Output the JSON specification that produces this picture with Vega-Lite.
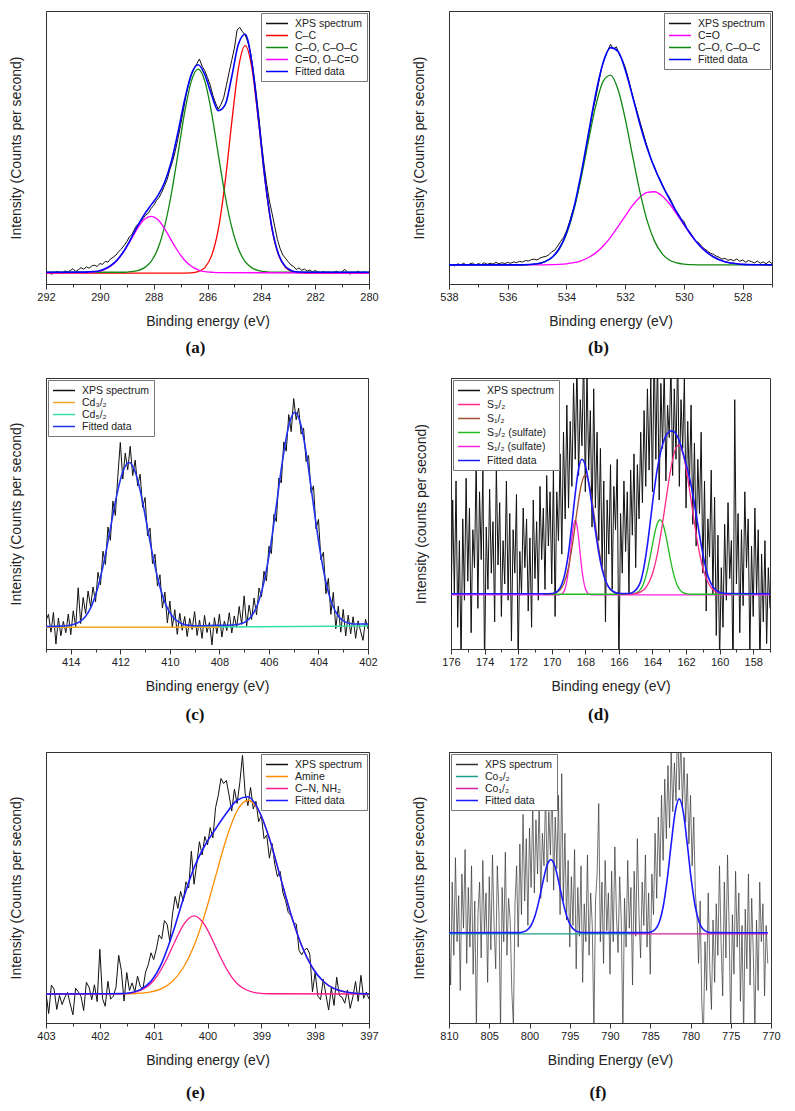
{
"$schema": "https://vega.github.io/schema/vega-lite/v6.json",
"background": "white",
"padding": {"left": 8, "top": 10, "right": 5, "bottom": 5},
"spacing": 20,
"resolve": {"scale": {"color": "independent", "x": "independent", "y": "independent"}},
"config": {
  "view": {"stroke": "#333", "strokeWidth": 1},
  "axis": {"grid": false, "domainColor": "#333", "tickColor": "#333", "tickSize": 5, "labelFont": "Liberation Sans", "labelFontSize": 11, "labelColor": "#222", "titleFont": "Liberation Sans", "titleFontSize": 14, "titleFontWeight": "normal", "titleColor": "#222", "labelOverlap": false, "labelFlush": false, "labelPadding": 2},
  "legend": {"symbolType": "M-1,0H3", "symbolSize": 121, "symbolStrokeWidth": 1.5, "labelFont": "Liberation Sans", "labelFontSize": 10.5, "labelColor": "#222", "strokeColor": "#777", "fillColor": "#fff", "padding": 4, "offset": 2, "rowPadding": 0, "labelOffset": 17},
  "title": {"font": "Liberation Serif", "fontSize": 17, "fontWeight": "bold", "color": "#111", "orient": "bottom", "anchor": "middle", "dx": -12}
},
"vconcat": [
{
 "hconcat": [
  {
   "width": 323, "height": 273,
   "title": {"text": "(a)", "offset": 12},
   "resolve": {"axis": {"x": "independent"}},
   "layer": [
    {"data": {"name": "a_x"}, "mark": {"type": "line", "strokeWidth": 1, "clip": true},
     "encoding": {
      "x": {"field": "x", "type": "quantitative", "scale": {"domain": [280, 292], "reverse": true, "nice": false, "zero": false},
            "axis": {"title": "Binding energy (eV)", "titlePadding": 12, "format": "d", "tickCount": 6}},
      "y": {"field": "y", "type": "quantitative", "scale": {"domain": [0, 100], "nice": false, "zero": false}, "axis": {"title": "Intensity (Counts per second)", "labels": false, "ticks": false, "titlePadding": 23}},
      "color": {"datum": "XPS spectrum", "scale": {"domain": ["XPS spectrum", "C–C", "C–O, C–O–C", "C=O, O–C=O", "Fitted data"], "range": ["#111111", "#ff0000", "#118811", "#ff00ff", "#0000ff"]}, "legend": {"title": null, "orient": "top-right"}}
     }},
    {"data": {"name": "a_cc"}, "mark": {"type": "line", "strokeWidth": 1.3, "interpolate": "monotone", "clip": true}, "encoding": {"x": {"field": "x", "type": "quantitative", "axis": null}, "y": {"field": "y", "type": "quantitative"}, "color": {"datum": "C–C"}}},
    {"data": {"name": "a_co"}, "mark": {"type": "line", "strokeWidth": 1.3, "interpolate": "monotone", "clip": true}, "encoding": {"x": {"field": "x", "type": "quantitative", "axis": null}, "y": {"field": "y", "type": "quantitative"}, "color": {"datum": "C–O, C–O–C"}}},
    {"data": {"name": "a_c2"}, "mark": {"type": "line", "strokeWidth": 1.3, "interpolate": "monotone", "clip": true}, "encoding": {"x": {"field": "x", "type": "quantitative", "axis": null}, "y": {"field": "y", "type": "quantitative"}, "color": {"datum": "C=O, O–C=O"}}},
    {"data": {"name": "a_fit"}, "mark": {"type": "line", "strokeWidth": 1.6, "interpolate": "monotone", "clip": true}, "encoding": {"x": {"field": "x", "type": "quantitative", "axis": {"orient": "bottom", "tickCount": 12, "labels": false, "domain": false, "title": null, "tickSize": 3}}, "y": {"field": "y", "type": "quantitative"}, "color": {"datum": "Fitted data"}}}
   ]
  },
  {
   "width": 323, "height": 273,
   "title": {"text": "(b)", "offset": 12},
   "resolve": {"axis": {"x": "independent"}},
   "layer": [
    {"data": {"name": "b_x"}, "mark": {"type": "line", "strokeWidth": 1, "clip": true},
     "encoding": {
      "x": {"field": "x", "type": "quantitative", "scale": {"domain": [527, 538], "reverse": true, "nice": false, "zero": false},
            "axis": {"title": "Binding energy (eV)", "titlePadding": 12, "format": "d", "tickCount": 6}},
      "y": {"field": "y", "type": "quantitative", "scale": {"domain": [0, 100], "nice": false, "zero": false}, "axis": {"title": "Intensity (Counts per second)", "labels": false, "ticks": false, "titlePadding": 23}},
      "color": {"datum": "XPS spectrum", "scale": {"domain": ["XPS spectrum", "C=O", "C–O, C–O–C", "Fitted data"], "range": ["#111111", "#ff00ff", "#118811", "#0000ff"]}, "legend": {"title": null, "orient": "top-right"}}
     }},
    {"data": {"name": "b_co"}, "mark": {"type": "line", "strokeWidth": 1.3, "interpolate": "monotone", "clip": true}, "encoding": {"x": {"field": "x", "type": "quantitative", "axis": null}, "y": {"field": "y", "type": "quantitative"}, "color": {"datum": "C=O"}}},
    {"data": {"name": "b_coc"}, "mark": {"type": "line", "strokeWidth": 1.3, "interpolate": "monotone", "clip": true}, "encoding": {"x": {"field": "x", "type": "quantitative", "axis": null}, "y": {"field": "y", "type": "quantitative"}, "color": {"datum": "C–O, C–O–C"}}},
    {"data": {"name": "b_fit"}, "mark": {"type": "line", "strokeWidth": 1.6, "interpolate": "monotone", "clip": true}, "encoding": {"x": {"field": "x", "type": "quantitative", "axis": {"orient": "bottom", "tickCount": 11, "labels": false, "domain": false, "title": null, "tickSize": 3}}, "y": {"field": "y", "type": "quantitative"}, "color": {"datum": "Fitted data"}}}
   ]
  }
 ],
 "spacing": 80, "bounds": "flush",
 "resolve": {"scale": {"color": "independent", "x": "independent", "y": "independent"}}
},
{
 "vconcat": [
  {
   "hconcat": [
    {
     "width": 322, "height": 271,
     "title": {"text": "(c)", "offset": 14},
     "resolve": {"axis": {"x": "independent"}},
     "layer": [
      {"data": {"name": "c_x"}, "mark": {"type": "line", "strokeWidth": 1, "clip": true},
       "encoding": {
        "x": {"field": "x", "type": "quantitative", "scale": {"domain": [402, 415], "reverse": true, "nice": false, "zero": false},
              "axis": {"title": "Binding energy (eV)", "titlePadding": 12, "format": "d", "tickCount": 7}},
        "y": {"field": "y", "type": "quantitative", "scale": {"domain": [0, 100], "nice": false, "zero": false}, "axis": {"title": "Intensity (Counts per second)", "labels": false, "ticks": false, "titlePadding": 23}},
        "color": {"datum": "XPS spectrum", "scale": {"domain": ["XPS spectrum", "Cd₃/₂", "Cd₅/₂", "Fitted data"], "range": ["#111111", "#f0a81e", "#33e0a0", "#2233ee"]}, "legend": {"title": null, "orient": "top-left"}}
       }},
      {"data": {"name": "c_cd5"}, "mark": {"type": "line", "strokeWidth": 1.5, "clip": true}, "encoding": {"x": {"field": "x", "type": "quantitative", "axis": null}, "y": {"field": "y", "type": "quantitative"}, "color": {"datum": "Cd₅/₂"}}},
      {"data": {"name": "c_cd3"}, "mark": {"type": "line", "strokeWidth": 1.5, "clip": true}, "encoding": {"x": {"field": "x", "type": "quantitative", "axis": null}, "y": {"field": "y", "type": "quantitative"}, "color": {"datum": "Cd₃/₂"}}},
      {"data": {"name": "c_fit"}, "mark": {"type": "line", "strokeWidth": 1.6, "interpolate": "monotone", "clip": true}, "encoding": {"x": {"field": "x", "type": "quantitative", "axis": {"orient": "bottom", "tickCount": 13, "labels": false, "domain": false, "title": null, "tickSize": 3}}, "y": {"field": "y", "type": "quantitative"}, "color": {"datum": "Fitted data"}}}
     ]
    },
    {
     "width": 319, "height": 271,
     "title": {"text": "(d)", "offset": 14},
     "resolve": {"axis": {"x": "independent"}},
     "layer": [
      {"data": {"name": "d_x"}, "mark": {"type": "line", "strokeWidth": 1, "clip": true},
       "encoding": {
        "x": {"field": "x", "type": "quantitative", "scale": {"domain": [157, 176], "reverse": true, "nice": false, "zero": false},
              "axis": {"title": "Binding enegy (eV)", "titlePadding": 12, "format": "d", "tickCount": 10}},
        "y": {"field": "y", "type": "quantitative", "scale": {"domain": [0, 100], "nice": false, "zero": false}, "axis": {"title": "Intensity (counts per second)", "labels": false, "ticks": false, "titlePadding": 23}},
        "color": {"datum": "XPS spectrum", "scale": {"domain": ["XPS spectrum", "S₃/₂", "S₁/₂", "S₃/₂ (sulfate)", "S₁/₂ (sulfate)", "Fitted data"], "range": ["#111111", "#ff2a8a", "#a0522d", "#22bb22", "#ff22dd", "#1a1aff"]}, "legend": {"title": null, "orient": "top-left", "rowPadding": 2}}
       }},
      {"data": {"name": "d_s12s"}, "mark": {"type": "line", "strokeWidth": 1.3, "interpolate": "monotone", "clip": true}, "encoding": {"x": {"field": "x", "type": "quantitative", "axis": null}, "y": {"field": "y", "type": "quantitative"}, "color": {"datum": "S₁/₂ (sulfate)"}}},
      {"data": {"name": "d_s32s"}, "mark": {"type": "line", "strokeWidth": 1.3, "interpolate": "monotone", "clip": true}, "encoding": {"x": {"field": "x", "type": "quantitative", "axis": null}, "y": {"field": "y", "type": "quantitative"}, "color": {"datum": "S₃/₂ (sulfate)"}}},
      {"data": {"name": "d_s12"}, "mark": {"type": "line", "strokeWidth": 1.3, "interpolate": "monotone", "clip": true}, "encoding": {"x": {"field": "x", "type": "quantitative", "axis": null}, "y": {"field": "y", "type": "quantitative"}, "color": {"datum": "S₁/₂"}}},
      {"data": {"name": "d_s32"}, "mark": {"type": "line", "strokeWidth": 1.3, "interpolate": "monotone", "clip": true}, "encoding": {"x": {"field": "x", "type": "quantitative", "axis": null}, "y": {"field": "y", "type": "quantitative"}, "color": {"datum": "S₃/₂"}}},
      {"data": {"name": "d_fit"}, "mark": {"type": "line", "strokeWidth": 1.6, "interpolate": "monotone", "clip": true}, "encoding": {"x": {"field": "x", "type": "quantitative", "axis": {"orient": "bottom", "tickCount": 19, "labels": false, "domain": false, "title": null, "tickSize": 3}}, "y": {"field": "y", "type": "quantitative"}, "color": {"datum": "Fitted data"}}}
     ]
    }
   ],
   "spacing": 83, "bounds": "flush",
   "resolve": {"scale": {"color": "independent", "x": "independent", "y": "independent"}}
  },
  {
   "hconcat": [
    {
     "width": 323, "height": 271,
     "title": {"text": "(e)", "offset": 18},
     "resolve": {"axis": {"x": "independent"}},
     "layer": [
      {"data": {"name": "e_x"}, "mark": {"type": "line", "strokeWidth": 1, "clip": true},
       "encoding": {
        "x": {"field": "x", "type": "quantitative", "scale": {"domain": [397, 403], "reverse": true, "nice": false, "zero": false},
              "axis": {"title": "Binding energy (eV)", "titlePadding": 12, "format": "d", "tickCount": 6}},
        "y": {"field": "y", "type": "quantitative", "scale": {"domain": [0, 100], "nice": false, "zero": false}, "axis": {"title": "Intensity (Counts per second)", "labels": false, "ticks": false, "titlePadding": 23}},
        "color": {"datum": "XPS spectrum", "scale": {"domain": ["XPS spectrum", "Amine", "C–N, NH₂", "Fitted data"], "range": ["#111111", "#ff8c00", "#ff1a8c", "#1a1aff"]}, "legend": {"title": null, "orient": "top-right"}}
       }},
      {"data": {"name": "e_am"}, "mark": {"type": "line", "strokeWidth": 1.3, "interpolate": "monotone", "clip": true}, "encoding": {"x": {"field": "x", "type": "quantitative", "axis": null}, "y": {"field": "y", "type": "quantitative"}, "color": {"datum": "Amine"}}},
      {"data": {"name": "e_cn"}, "mark": {"type": "line", "strokeWidth": 1.3, "interpolate": "monotone", "clip": true}, "encoding": {"x": {"field": "x", "type": "quantitative", "axis": null}, "y": {"field": "y", "type": "quantitative"}, "color": {"datum": "C–N, NH₂"}}},
      {"data": {"name": "e_fit"}, "mark": {"type": "line", "strokeWidth": 1.6, "interpolate": "monotone", "clip": true}, "encoding": {"x": {"field": "x", "type": "quantitative", "axis": {"orient": "bottom", "tickCount": 12, "labels": false, "domain": false, "title": null, "tickSize": 3}}, "y": {"field": "y", "type": "quantitative"}, "color": {"datum": "Fitted data"}}}
     ]
    },
    {
     "width": 322, "height": 271,
     "title": {"text": "(f)", "offset": 18},
     "layer": [
      {"data": {"name": "f_x"}, "mark": {"type": "line", "strokeWidth": 0.7, "clip": true},
       "encoding": {
        "x": {"field": "x", "type": "quantitative", "scale": {"domain": [770, 810], "reverse": true, "nice": false, "zero": false},
              "axis": {"title": "Binding Energy (eV)", "titlePadding": 12, "format": "d", "tickCount": 8}},
        "y": {"field": "y", "type": "quantitative", "scale": {"domain": [0, 100], "nice": false, "zero": false}, "axis": {"title": "Intensity (Counts per second)", "labels": false, "ticks": false, "titlePadding": 23}},
        "color": {"datum": "XPS spectrum", "scale": {"domain": ["XPS spectrum", "Co₃/₂", "Co₁/₂", "Fitted data"], "range": ["#333333", "#1a9e8e", "#d4209c", "#1a1aff"]}, "legend": {"title": null, "orient": "top-left"}}
       }},
      {"data": {"name": "f_co3"}, "mark": {"type": "line", "strokeWidth": 1.3, "clip": true}, "encoding": {"x": {"field": "x", "type": "quantitative"}, "y": {"field": "y", "type": "quantitative"}, "color": {"datum": "Co₃/₂"}}},
      {"data": {"name": "f_co1"}, "mark": {"type": "line", "strokeWidth": 1.3, "clip": true}, "encoding": {"x": {"field": "x", "type": "quantitative"}, "y": {"field": "y", "type": "quantitative"}, "color": {"datum": "Co₁/₂"}}},
      {"data": {"name": "f_fit"}, "mark": {"type": "line", "strokeWidth": 1.6, "interpolate": "monotone", "clip": true}, "encoding": {"x": {"field": "x", "type": "quantitative"}, "y": {"field": "y", "type": "quantitative"}, "color": {"datum": "Fitted data"}}}
     ]
    }
   ],
   "spacing": 80, "bounds": "flush",
   "resolve": {"scale": {"color": "independent", "x": "independent", "y": "independent"}}
  }
 ],
 "spacing": 27,
 "resolve": {"scale": {"color": "independent", "x": "independent", "y": "independent"}}
}
],
"datasets": {
"a_x": [{"x":292.0,"y":3.5},{"x":291.9,"y":4.2},{"x":291.8,"y":3.6},{"x":291.7,"y":4.0},{"x":291.6,"y":4.6},{"x":291.5,"y":4.3},{"x":291.4,"y":3.9},{"x":291.3,"y":4.8},{"x":291.2,"y":4.4},{"x":291.1,"y":4.9},{"x":291.0,"y":5.6},{"x":290.9,"y":4.6},{"x":290.8,"y":5.2},{"x":290.7,"y":6.0},{"x":290.6,"y":5.4},{"x":290.5,"y":6.3},{"x":290.4,"y":5.8},{"x":290.3,"y":6.6},{"x":290.2,"y":6.9},{"x":290.1,"y":6.4},{"x":290.0,"y":7.5},{"x":289.9,"y":7.2},{"x":289.8,"y":8.3},{"x":289.7,"y":8.0},{"x":289.6,"y":9.2},{"x":289.5,"y":9.8},{"x":289.4,"y":10.6},{"x":289.3,"y":11.9},{"x":289.2,"y":12.8},{"x":289.1,"y":14.1},{"x":289.0,"y":15.5},{"x":288.9,"y":17.3},{"x":288.8,"y":18.2},{"x":288.7,"y":20.4},{"x":288.6,"y":21.8},{"x":288.5,"y":22.6},{"x":288.4,"y":23.9},{"x":288.3,"y":25.2},{"x":288.2,"y":25.9},{"x":288.1,"y":27.6},{"x":288.0,"y":28.8},{"x":287.9,"y":30.5},{"x":287.8,"y":31.7},{"x":287.7,"y":33.6},{"x":287.6,"y":35.9},{"x":287.5,"y":38.2},{"x":287.4,"y":41.9},{"x":287.3,"y":44.8},{"x":287.2,"y":48.6},{"x":287.1,"y":53.2},{"x":287.0,"y":58.1},{"x":286.9,"y":63.4},{"x":286.8,"y":69.0},{"x":286.7,"y":73.2},{"x":286.6,"y":76.5},{"x":286.5,"y":78.9},{"x":286.4,"y":80.6},{"x":286.3,"y":82.4},{"x":286.2,"y":79.8},{"x":286.1,"y":78.1},{"x":286.0,"y":75.6},{"x":285.9,"y":72.8},{"x":285.8,"y":69.1},{"x":285.7,"y":66.3},{"x":285.6,"y":64.0},{"x":285.5,"y":65.8},{"x":285.4,"y":68.2},{"x":285.3,"y":72.7},{"x":285.2,"y":77.4},{"x":285.1,"y":81.9},{"x":285.0,"y":86.4},{"x":284.9,"y":93.1},{"x":284.8,"y":94.0},{"x":284.7,"y":92.4},{"x":284.6,"y":91.2},{"x":284.5,"y":88.6},{"x":284.4,"y":84.7},{"x":284.3,"y":78.3},{"x":284.2,"y":70.6},{"x":284.1,"y":61.9},{"x":284.0,"y":52.3},{"x":283.9,"y":43.8},{"x":283.8,"y":36.5},{"x":283.7,"y":30.4},{"x":283.6,"y":25.8},{"x":283.5,"y":21.0},{"x":283.4,"y":16.2},{"x":283.3,"y":12.9},{"x":283.2,"y":10.6},{"x":283.1,"y":9.4},{"x":283.0,"y":8.1},{"x":282.9,"y":7.0},{"x":282.8,"y":6.4},{"x":282.7,"y":5.3},{"x":282.6,"y":5.9},{"x":282.5,"y":5.0},{"x":282.4,"y":5.5},{"x":282.3,"y":4.7},{"x":282.2,"y":5.1},{"x":282.1,"y":4.4},{"x":282.0,"y":4.9},{"x":281.9,"y":4.5},{"x":281.8,"y":4.1},{"x":281.7,"y":4.6},{"x":281.6,"y":4.2},{"x":281.5,"y":4.4},{"x":281.4,"y":3.9},{"x":281.3,"y":4.3},{"x":281.2,"y":4.7},{"x":281.1,"y":4.0},{"x":281.0,"y":4.5},{"x":280.9,"y":5.4},{"x":280.8,"y":4.2},{"x":280.7,"y":3.6},{"x":280.6,"y":4.3},{"x":280.5,"y":4.0},{"x":280.4,"y":4.8},{"x":280.3,"y":3.7},{"x":280.2,"y":4.5},{"x":280.1,"y":4.1},{"x":280.0,"y":4.3}],
"a_cc": [{"x":280,"y":4.0},{"x":282.1,"y":4.0},{"x":282.6,"y":4.1},{"x":282.85,"y":4.5},{"x":283.1,"y":6.0},{"x":283.35,"y":10.3},{"x":283.6,"y":19.9},{"x":283.85,"y":36.9},{"x":284.1,"y":59.1},{"x":284.35,"y":79.1},{"x":284.6,"y":87.3},{"x":284.85,"y":79.1},{"x":285.1,"y":59.1},{"x":285.35,"y":36.9},{"x":285.6,"y":19.9},{"x":285.85,"y":10.3},{"x":286.1,"y":6.0},{"x":286.35,"y":4.5},{"x":286.6,"y":4.1},{"x":287.1,"y":4.0},{"x":292,"y":4.0}],
"a_co": [{"x":280,"y":4.3},{"x":283.6,"y":4.3},{"x":283.85,"y":4.5},{"x":284.1,"y":4.9},{"x":284.35,"y":5.9},{"x":284.6,"y":8.2},{"x":284.85,"y":12.8},{"x":285.1,"y":20.8},{"x":285.35,"y":32.6},{"x":285.6,"y":47.5},{"x":285.85,"y":62.8},{"x":286.1,"y":74.3},{"x":286.35,"y":78.7},{"x":286.6,"y":74.3},{"x":286.85,"y":62.8},{"x":287.1,"y":47.5},{"x":287.35,"y":32.6},{"x":287.6,"y":20.8},{"x":287.85,"y":12.8},{"x":288.1,"y":8.2},{"x":288.35,"y":5.9},{"x":288.6,"y":4.9},{"x":288.85,"y":4.5},{"x":289.1,"y":4.3},{"x":292,"y":4.3}],
"a_c2": [{"x":280,"y":4.0},{"x":285.6,"y":4.15},{"x":285.85,"y":4.3},{"x":286.1,"y":4.5},{"x":286.35,"y":5.2},{"x":286.6,"y":6.5},{"x":286.85,"y":8.7},{"x":287.1,"y":12.0},{"x":287.35,"y":16.1},{"x":287.6,"y":20.4},{"x":287.85,"y":23.6},{"x":288.1,"y":24.8},{"x":288.35,"y":23.6},{"x":288.6,"y":20.4},{"x":288.85,"y":16.1},{"x":289.1,"y":12.0},{"x":289.35,"y":8.7},{"x":289.6,"y":6.5},{"x":289.85,"y":5.2},{"x":290.1,"y":4.5},{"x":290.35,"y":4.3},{"x":290.6,"y":4.15},{"x":292,"y":4.1}],
"a_fit": [{"x":280,"y":4.3},{"x":282.1,"y":4.3},{"x":282.6,"y":4.4},{"x":282.85,"y":4.8},{"x":283.1,"y":6.3},{"x":283.35,"y":10.6},{"x":283.6,"y":20.3},{"x":283.85,"y":37.4},{"x":284.1,"y":60.0},{"x":284.35,"y":81.0},{"x":284.6,"y":91.5},{"x":284.85,"y":87.9},{"x":285.1,"y":75.9},{"x":285.35,"y":65.5},{"x":285.6,"y":63.5},{"x":285.85,"y":69.3},{"x":286.1,"y":76.7},{"x":286.35,"y":80.3},{"x":286.6,"y":76.8},{"x":286.85,"y":67.4},{"x":287.1,"y":55.4},{"x":287.35,"y":44.6},{"x":287.6,"y":37.1},{"x":287.85,"y":32.3},{"x":288.1,"y":28.9},{"x":288.35,"y":25.4},{"x":288.6,"y":21.2},{"x":288.85,"y":16.5},{"x":289.1,"y":12.2},{"x":289.35,"y":8.9},{"x":289.6,"y":6.7},{"x":289.85,"y":5.4},{"x":290.1,"y":4.7},{"x":290.35,"y":4.5},{"x":290.6,"y":4.35},{"x":292,"y":4.3}],
"b_x": [{"x":538.0,"y":6.4},{"x":537.9,"y":7.2},{"x":537.8,"y":6.6},{"x":537.7,"y":7.4},{"x":537.6,"y":7.0},{"x":537.5,"y":7.6},{"x":537.4,"y":6.8},{"x":537.3,"y":7.3},{"x":537.2,"y":7.7},{"x":537.1,"y":6.9},{"x":537.0,"y":7.5},{"x":536.9,"y":7.1},{"x":536.8,"y":7.8},{"x":536.7,"y":7.2},{"x":536.6,"y":7.6},{"x":536.5,"y":7.3},{"x":536.4,"y":7.9},{"x":536.3,"y":7.4},{"x":536.2,"y":7.8},{"x":536.1,"y":7.5},{"x":536.0,"y":7.9},{"x":535.9,"y":7.6},{"x":535.8,"y":8.1},{"x":535.7,"y":7.8},{"x":535.6,"y":8.3},{"x":535.5,"y":8.0},{"x":535.4,"y":8.6},{"x":535.3,"y":8.4},{"x":535.2,"y":8.9},{"x":535.1,"y":9.1},{"x":535.0,"y":8.8},{"x":534.9,"y":9.5},{"x":534.8,"y":9.9},{"x":534.7,"y":10.1},{"x":534.6,"y":10.7},{"x":534.5,"y":11.8},{"x":534.4,"y":12.4},{"x":534.3,"y":13.9},{"x":534.2,"y":15.6},{"x":534.1,"y":17.0},{"x":534.0,"y":19.4},{"x":533.9,"y":22.6},{"x":533.8,"y":26.3},{"x":533.7,"y":29.5},{"x":533.6,"y":34.1},{"x":533.5,"y":39.6},{"x":533.4,"y":45.2},{"x":533.3,"y":51.0},{"x":533.2,"y":57.3},{"x":533.1,"y":63.5},{"x":533.0,"y":68.4},{"x":532.9,"y":73.9},{"x":532.8,"y":79.2},{"x":532.7,"y":82.6},{"x":532.6,"y":85.3},{"x":532.5,"y":87.8},{"x":532.4,"y":86.1},{"x":532.3,"y":86.9},{"x":532.2,"y":84.0},{"x":532.1,"y":82.2},{"x":532.0,"y":79.4},{"x":531.9,"y":75.6},{"x":531.8,"y":71.3},{"x":531.7,"y":67.1},{"x":531.6,"y":63.4},{"x":531.5,"y":59.6},{"x":531.4,"y":55.8},{"x":531.3,"y":52.0},{"x":531.2,"y":48.6},{"x":531.1,"y":45.1},{"x":531.0,"y":42.9},{"x":530.9,"y":40.0},{"x":530.8,"y":38.1},{"x":530.7,"y":35.6},{"x":530.6,"y":33.4},{"x":530.5,"y":31.9},{"x":530.4,"y":29.7},{"x":530.3,"y":27.2},{"x":530.2,"y":25.8},{"x":530.1,"y":24.0},{"x":530.0,"y":22.9},{"x":529.9,"y":20.4},{"x":529.8,"y":19.1},{"x":529.7,"y":17.5},{"x":529.6,"y":15.6},{"x":529.5,"y":15.2},{"x":529.4,"y":13.8},{"x":529.3,"y":12.9},{"x":529.2,"y":12.1},{"x":529.1,"y":11.3},{"x":529.0,"y":10.9},{"x":528.9,"y":10.2},{"x":528.8,"y":9.8},{"x":528.7,"y":9.1},{"x":528.6,"y":9.4},{"x":528.5,"y":8.7},{"x":528.4,"y":9.0},{"x":528.3,"y":8.5},{"x":528.2,"y":9.2},{"x":528.1,"y":8.3},{"x":528.0,"y":8.8},{"x":527.9,"y":8.0},{"x":527.8,"y":8.6},{"x":527.7,"y":8.2},{"x":527.6,"y":7.7},{"x":527.5,"y":8.4},{"x":527.4,"y":7.6},{"x":527.3,"y":8.1},{"x":527.2,"y":7.4},{"x":527.1,"y":8.3},{"x":527.0,"y":7.5}],
"b_co": [{"x":538,"y":7.0},{"x":535,"y":7.0},{"x":534.5,"y":7.1},{"x":534.25,"y":7.2},{"x":534.0,"y":7.4},{"x":533.75,"y":7.8},{"x":533.5,"y":8.5},{"x":533.25,"y":9.7},{"x":533.0,"y":11.4},{"x":532.75,"y":13.9},{"x":532.5,"y":17.1},{"x":532.25,"y":20.9},{"x":532.0,"y":24.9},{"x":531.75,"y":28.8},{"x":531.5,"y":31.8},{"x":531.25,"y":33.6},{"x":531.0,"y":33.8},{"x":530.75,"y":32.3},{"x":530.5,"y":29.5},{"x":530.25,"y":25.7},{"x":530.0,"y":21.7},{"x":529.75,"y":17.8},{"x":529.5,"y":14.5},{"x":529.25,"y":11.9},{"x":529.0,"y":10.0},{"x":528.75,"y":8.7},{"x":528.5,"y":7.9},{"x":528.25,"y":7.5},{"x":528.0,"y":7.2},{"x":527.5,"y":7.05},{"x":527.0,"y":7.0}],
"b_coc": [{"x":538,"y":7.0},{"x":535.5,"y":7.0},{"x":535.0,"y":7.4},{"x":534.75,"y":8.1},{"x":534.5,"y":9.6},{"x":534.25,"y":12.7},{"x":534.0,"y":18.3},{"x":533.75,"y":27.0},{"x":533.5,"y":38.9},{"x":533.25,"y":52.5},{"x":533.0,"y":65.4},{"x":532.75,"y":74.2},{"x":532.5,"y":76.5},{"x":532.25,"y":71.4},{"x":532.0,"y":60.6},{"x":531.75,"y":47.0},{"x":531.5,"y":33.8},{"x":531.25,"y":23.1},{"x":531.0,"y":15.7},{"x":530.75,"y":11.2},{"x":530.5,"y":8.8},{"x":530.25,"y":7.7},{"x":530.0,"y":7.25},{"x":529.75,"y":7.1},{"x":529.5,"y":7.0},{"x":527.0,"y":7.0}],
"b_fit": [{"x":538,"y":7.0},{"x":536,"y":7.0},{"x":535.5,"y":7.0},{"x":535.0,"y":7.4},{"x":534.75,"y":8.1},{"x":534.5,"y":9.7},{"x":534.25,"y":12.9},{"x":534.0,"y":18.7},{"x":533.75,"y":27.8},{"x":533.5,"y":40.4},{"x":533.25,"y":55.2},{"x":533.0,"y":69.8},{"x":532.75,"y":81.1},{"x":532.5,"y":86.6},{"x":532.25,"y":85.3},{"x":532.0,"y":78.5},{"x":531.75,"y":68.8},{"x":531.5,"y":58.6},{"x":531.25,"y":49.7},{"x":531.0,"y":42.5},{"x":530.75,"y":36.5},{"x":530.5,"y":31.3},{"x":530.25,"y":26.4},{"x":530.0,"y":22.0},{"x":529.75,"y":17.9},{"x":529.5,"y":14.5},{"x":529.25,"y":11.9},{"x":529.0,"y":10.0},{"x":528.75,"y":8.7},{"x":528.5,"y":7.9},{"x":528.25,"y":7.5},{"x":528.0,"y":7.2},{"x":527.5,"y":7.05},{"x":527.0,"y":7.0}],
"c_x": [{"x":415.0,"y":10.5},{"x":414.9,"y":12.8},{"x":414.8,"y":6.2},{"x":414.7,"y":13.5},{"x":414.6,"y":1.8},{"x":414.5,"y":11.4},{"x":414.4,"y":4.9},{"x":414.3,"y":10.2},{"x":414.2,"y":6.0},{"x":414.1,"y":12.9},{"x":414.0,"y":5.3},{"x":413.9,"y":14.1},{"x":413.8,"y":8.2},{"x":413.7,"y":22.6},{"x":413.6,"y":9.4},{"x":413.5,"y":19.0},{"x":413.4,"y":13.1},{"x":413.3,"y":21.4},{"x":413.2,"y":15.6},{"x":413.1,"y":22.9},{"x":413.0,"y":17.4},{"x":412.9,"y":28.3},{"x":412.8,"y":23.7},{"x":412.7,"y":36.1},{"x":412.6,"y":31.2},{"x":412.5,"y":45.0},{"x":412.4,"y":40.1},{"x":412.3,"y":54.6},{"x":412.2,"y":49.3},{"x":412.1,"y":63.8},{"x":412.0,"y":76.2},{"x":411.9,"y":62.7},{"x":411.8,"y":72.3},{"x":411.7,"y":66.1},{"x":411.6,"y":74.8},{"x":411.5,"y":64.0},{"x":411.4,"y":69.7},{"x":411.3,"y":60.2},{"x":411.2,"y":64.5},{"x":411.1,"y":52.3},{"x":411.0,"y":55.9},{"x":410.9,"y":41.8},{"x":410.8,"y":44.6},{"x":410.7,"y":31.5},{"x":410.6,"y":35.0},{"x":410.5,"y":23.2},{"x":410.4,"y":27.4},{"x":410.3,"y":15.1},{"x":410.2,"y":21.0},{"x":410.1,"y":9.6},{"x":410.0,"y":17.7},{"x":409.9,"y":8.1},{"x":409.8,"y":14.5},{"x":409.7,"y":5.4},{"x":409.6,"y":13.2},{"x":409.5,"y":6.9},{"x":409.4,"y":12.0},{"x":409.3,"y":4.6},{"x":409.2,"y":11.3},{"x":409.1,"y":7.2},{"x":409.0,"y":13.8},{"x":408.9,"y":5.0},{"x":408.8,"y":10.7},{"x":408.7,"y":3.9},{"x":408.6,"y":12.4},{"x":408.5,"y":6.1},{"x":408.4,"y":9.8},{"x":408.3,"y":1.5},{"x":408.2,"y":11.6},{"x":408.1,"y":5.7},{"x":408.0,"y":12.9},{"x":407.9,"y":4.4},{"x":407.8,"y":10.3},{"x":407.7,"y":6.8},{"x":407.6,"y":13.4},{"x":407.5,"y":5.9},{"x":407.4,"y":12.2},{"x":407.3,"y":8.0},{"x":407.2,"y":15.7},{"x":407.1,"y":9.1},{"x":407.0,"y":19.6},{"x":406.9,"y":8.5},{"x":406.8,"y":16.2},{"x":406.7,"y":10.9},{"x":406.6,"y":18.8},{"x":406.5,"y":12.6},{"x":406.4,"y":22.5},{"x":406.3,"y":19.3},{"x":406.2,"y":28.7},{"x":406.1,"y":25.1},{"x":406.0,"y":37.9},{"x":405.9,"y":35.2},{"x":405.8,"y":49.6},{"x":405.7,"y":47.0},{"x":405.6,"y":63.1},{"x":405.5,"y":61.3},{"x":405.4,"y":76.4},{"x":405.3,"y":73.0},{"x":405.2,"y":86.5},{"x":405.1,"y":80.2},{"x":405.0,"y":92.4},{"x":404.9,"y":84.6},{"x":404.8,"y":88.9},{"x":404.7,"y":79.3},{"x":404.6,"y":81.5},{"x":404.5,"y":69.2},{"x":404.4,"y":71.4},{"x":404.3,"y":57.6},{"x":404.2,"y":60.2},{"x":404.1,"y":44.3},{"x":404.0,"y":47.8},{"x":403.9,"y":32.9},{"x":403.8,"y":35.7},{"x":403.7,"y":20.4},{"x":403.6,"y":26.1},{"x":403.5,"y":12.8},{"x":403.4,"y":20.9},{"x":403.3,"y":7.5},{"x":403.2,"y":15.8},{"x":403.1,"y":6.2},{"x":403.0,"y":14.6},{"x":402.9,"y":4.8},{"x":402.8,"y":12.5},{"x":402.7,"y":5.6},{"x":402.6,"y":11.9},{"x":402.5,"y":3.9},{"x":402.4,"y":10.4},{"x":402.3,"y":6.6},{"x":402.2,"y":3.2},{"x":402.1,"y":11.0},{"x":402.0,"y":7.4}],
"c_cd3": [{"x":415,"y":8.0},{"x":408.0,"y":8.0}],
"c_cd5": [{"x":409.0,"y":8.1},{"x":402,"y":8.5}],
"c_fit": [{"x":415,"y":8.3},{"x":414.4,"y":8.45},{"x":414.15,"y":8.6},{"x":413.9,"y":9.0},{"x":413.65,"y":10.0},{"x":413.4,"y":12.1},{"x":413.15,"y":16.1},{"x":412.9,"y":22.9},{"x":412.65,"y":32.6},{"x":412.4,"y":44.5},{"x":412.15,"y":56.5},{"x":411.9,"y":65.4},{"x":411.65,"y":68.8},{"x":411.4,"y":65.4},{"x":411.15,"y":56.5},{"x":410.9,"y":44.5},{"x":410.65,"y":32.6},{"x":410.4,"y":22.9},{"x":410.15,"y":16.1},{"x":409.9,"y":12.1},{"x":409.65,"y":10.0},{"x":409.4,"y":9.0},{"x":409.15,"y":8.7},{"x":408.9,"y":8.6},{"x":408.2,"y":8.7},{"x":407.45,"y":8.85},{"x":407.2,"y":9.15},{"x":406.95,"y":10.0},{"x":406.7,"y":12.15},{"x":406.45,"y":16.6},{"x":406.2,"y":24.7},{"x":405.95,"y":37.0},{"x":405.7,"y":53.0},{"x":405.45,"y":69.6},{"x":405.2,"y":82.4},{"x":404.95,"y":87.3},{"x":404.7,"y":82.4},{"x":404.45,"y":69.6},{"x":404.2,"y":53.0},{"x":403.95,"y":37.0},{"x":403.7,"y":24.7},{"x":403.45,"y":16.6},{"x":403.2,"y":12.15},{"x":402.95,"y":10.1},{"x":402.7,"y":9.4},{"x":402.45,"y":9.2},{"x":402.0,"y":9.2}],
"d_x": [{"x":176.0,"y":12},{"x":175.9,"y":55},{"x":175.8,"y":20},{"x":175.7,"y":62},{"x":175.6,"y":8},{"x":175.5,"y":40},{"x":175.4,"y":-5},{"x":175.3,"y":48},{"x":175.2,"y":18},{"x":175.1,"y":63},{"x":175.0,"y":25},{"x":174.9,"y":52},{"x":174.8,"y":6},{"x":174.7,"y":44},{"x":174.6,"y":30},{"x":174.5,"y":70},{"x":174.4,"y":15},{"x":174.3,"y":58},{"x":174.2,"y":33},{"x":174.1,"y":66},{"x":174.0,"y":-8},{"x":173.9,"y":45},{"x":173.8,"y":22},{"x":173.7,"y":59},{"x":173.6,"y":28},{"x":173.5,"y":47},{"x":173.4,"y":10},{"x":173.3,"y":68},{"x":173.2,"y":31},{"x":173.1,"y":54},{"x":173.0,"y":12},{"x":172.9,"y":40},{"x":172.8,"y":24},{"x":172.7,"y":62},{"x":172.6,"y":18},{"x":172.5,"y":50},{"x":172.4,"y":3},{"x":172.3,"y":44},{"x":172.2,"y":28},{"x":172.1,"y":57},{"x":172.0,"y":-6},{"x":171.9,"y":36},{"x":171.8,"y":20},{"x":171.7,"y":52},{"x":171.6,"y":30},{"x":171.5,"y":48},{"x":171.4,"y":14},{"x":171.3,"y":41},{"x":171.2,"y":8},{"x":171.1,"y":55},{"x":171.0,"y":26},{"x":170.9,"y":47},{"x":170.8,"y":18},{"x":170.7,"y":60},{"x":170.6,"y":33},{"x":170.5,"y":52},{"x":170.4,"y":22},{"x":170.3,"y":64},{"x":170.2,"y":38},{"x":170.1,"y":58},{"x":170.0,"y":24},{"x":169.9,"y":66},{"x":169.8,"y":12},{"x":169.7,"y":58},{"x":169.6,"y":40},{"x":169.5,"y":72},{"x":169.4,"y":35},{"x":169.3,"y":80},{"x":169.2,"y":48},{"x":169.1,"y":90},{"x":169.0,"y":52},{"x":168.9,"y":84},{"x":168.8,"y":60},{"x":168.7,"y":98},{"x":168.6,"y":70},{"x":168.5,"y":105},{"x":168.4,"y":64},{"x":168.3,"y":92},{"x":168.2,"y":75},{"x":168.1,"y":110},{"x":168.0,"y":58},{"x":167.9,"y":104},{"x":167.8,"y":66},{"x":167.7,"y":88},{"x":167.6,"y":45},{"x":167.5,"y":96},{"x":167.4,"y":52},{"x":167.3,"y":80},{"x":167.2,"y":40},{"x":167.1,"y":74},{"x":167.0,"y":30},{"x":166.9,"y":62},{"x":166.8,"y":10},{"x":166.7,"y":55},{"x":166.6,"y":35},{"x":166.5,"y":68},{"x":166.4,"y":22},{"x":166.3,"y":60},{"x":166.2,"y":44},{"x":166.1,"y":70},{"x":166.0,"y":-10},{"x":165.9,"y":50},{"x":165.8,"y":28},{"x":165.7,"y":62},{"x":165.6,"y":36},{"x":165.5,"y":58},{"x":165.4,"y":20},{"x":165.3,"y":66},{"x":165.2,"y":42},{"x":165.1,"y":72},{"x":165.0,"y":30},{"x":164.9,"y":68},{"x":164.8,"y":48},{"x":164.7,"y":80},{"x":164.6,"y":54},{"x":164.5,"y":88},{"x":164.4,"y":60},{"x":164.3,"y":96},{"x":164.2,"y":66},{"x":164.1,"y":100},{"x":164.0,"y":58},{"x":163.9,"y":112},{"x":163.8,"y":70},{"x":163.7,"y":108},{"x":163.6,"y":55},{"x":163.5,"y":98},{"x":163.4,"y":74},{"x":163.3,"y":104},{"x":163.2,"y":62},{"x":163.1,"y":90},{"x":163.0,"y":78},{"x":162.9,"y":106},{"x":162.8,"y":64},{"x":162.7,"y":96},{"x":162.6,"y":70},{"x":162.5,"y":110},{"x":162.4,"y":60},{"x":162.3,"y":92},{"x":162.2,"y":74},{"x":162.1,"y":100},{"x":162.0,"y":52},{"x":161.9,"y":84},{"x":161.8,"y":60},{"x":161.7,"y":90},{"x":161.6,"y":46},{"x":161.5,"y":76},{"x":161.4,"y":38},{"x":161.3,"y":70},{"x":161.2,"y":50},{"x":161.1,"y":80},{"x":161.0,"y":28},{"x":160.9,"y":62},{"x":160.8,"y":14},{"x":160.7,"y":48},{"x":160.6,"y":34},{"x":160.5,"y":66},{"x":160.4,"y":20},{"x":160.3,"y":56},{"x":160.2,"y":5},{"x":160.1,"y":42},{"x":160.0,"y":-4},{"x":159.9,"y":30},{"x":159.8,"y":8},{"x":159.7,"y":46},{"x":159.6,"y":18},{"x":159.5,"y":54},{"x":159.4,"y":26},{"x":159.3,"y":40},{"x":159.2,"y":-12},{"x":159.1,"y":92},{"x":159.0,"y":24},{"x":158.9,"y":50},{"x":158.8,"y":6},{"x":158.7,"y":44},{"x":158.6,"y":16},{"x":158.5,"y":58},{"x":158.4,"y":30},{"x":158.3,"y":48},{"x":158.2,"y":-2},{"x":158.1,"y":38},{"x":158.0,"y":12},{"x":157.9,"y":52},{"x":157.8,"y":20},{"x":157.7,"y":44},{"x":157.6,"y":-8},{"x":157.5,"y":35},{"x":157.4,"y":10},{"x":157.3,"y":40},{"x":157.2,"y":2},{"x":157.1,"y":30},{"x":157.0,"y":15}],
"d_s32": [{"x":165.5,"y":20.2},{"x":165.2,"y":20.3},{"x":164.95,"y":20.5},{"x":164.7,"y":21.1},{"x":164.45,"y":22.25},{"x":164.2,"y":24.7},{"x":163.95,"y":28.8},{"x":163.7,"y":35.4},{"x":163.45,"y":44.4},{"x":163.2,"y":54.85},{"x":162.95,"y":65.0},{"x":162.7,"y":72.45},{"x":162.45,"y":75.2},{"x":162.2,"y":72.45},{"x":161.95,"y":65.0},{"x":161.7,"y":54.85},{"x":161.45,"y":44.4},{"x":161.2,"y":35.4},{"x":160.95,"y":28.8},{"x":160.7,"y":24.7},{"x":160.45,"y":22.25},{"x":160.2,"y":21.1},{"x":159.95,"y":20.5},{"x":159.7,"y":20.3},{"x":159.4,"y":20.2}],
"d_s12": [{"x":170.5,"y":20.2},{"x":170.0,"y":20.3},{"x":169.75,"y":20.7},{"x":169.5,"y":21.8},{"x":169.25,"y":24.5},{"x":169.0,"y":30.1},{"x":168.75,"y":39.3},{"x":168.5,"y":50.6},{"x":168.25,"y":60.3},{"x":168.0,"y":64.2},{"x":167.75,"y":60.3},{"x":167.5,"y":50.6},{"x":167.25,"y":39.3},{"x":167.0,"y":30.1},{"x":166.75,"y":24.5},{"x":166.5,"y":21.8},{"x":166.25,"y":20.7},{"x":166.0,"y":20.3},{"x":165.5,"y":20.2}],
"d_s32s": [{"x":170.0,"y":20.2},{"x":165.4,"y":20.2},{"x":165.15,"y":20.4},{"x":164.95,"y":20.7},{"x":164.75,"y":21.7},{"x":164.55,"y":23.9},{"x":164.35,"y":27.8},{"x":164.15,"y":33.6},{"x":163.95,"y":40.2},{"x":163.75,"y":45.6},{"x":163.55,"y":47.7},{"x":163.35,"y":45.6},{"x":163.15,"y":40.2},{"x":162.95,"y":33.6},{"x":162.75,"y":27.8},{"x":162.55,"y":23.9},{"x":162.35,"y":21.7},{"x":162.15,"y":20.7},{"x":161.95,"y":20.4},{"x":161.7,"y":20.2},{"x":158.0,"y":20.2}],
"d_s12s": [{"x":176,"y":20.0},{"x":169.6,"y":20.0},{"x":169.5,"y":20.1},{"x":169.4,"y":20.3},{"x":169.3,"y":21.0},{"x":169.2,"y":22.3},{"x":169.1,"y":25.0},{"x":169.0,"y":29.2},{"x":168.9,"y":34.8},{"x":168.8,"y":40.9},{"x":168.7,"y":45.7},{"x":168.6,"y":47.5},{"x":168.5,"y":45.7},{"x":168.4,"y":40.9},{"x":168.3,"y":34.8},{"x":168.2,"y":29.2},{"x":168.1,"y":25.0},{"x":168.0,"y":22.3},{"x":167.9,"y":21.0},{"x":167.8,"y":20.3},{"x":167.7,"y":20.1},{"x":167.6,"y":20.0},{"x":157,"y":20.0}],
"d_fit": [{"x":176,"y":20.4},{"x":170.4,"y":20.4},{"x":170.0,"y":20.5},{"x":169.8,"y":20.8},{"x":169.6,"y":21.7},{"x":169.4,"y":23.9},{"x":169.2,"y":28.2},{"x":169.0,"y":35.6},{"x":168.8,"y":45.9},{"x":168.6,"y":57.3},{"x":168.4,"y":66.5},{"x":168.2,"y":70.0},{"x":168.0,"y":67.7},{"x":167.8,"y":61.4},{"x":167.6,"y":52.8},{"x":167.4,"y":43.7},{"x":167.2,"y":35.6},{"x":167.0,"y":29.4},{"x":166.8,"y":25.3},{"x":166.6,"y":22.8},{"x":166.4,"y":21.5},{"x":166.2,"y":20.8},{"x":166.0,"y":20.6},{"x":165.7,"y":20.5},{"x":165.4,"y":20.5},{"x":165.1,"y":21.2},{"x":164.9,"y":22.5},{"x":164.7,"y":25.0},{"x":164.5,"y":30.5},{"x":164.3,"y":38.5},{"x":164.1,"y":48.5},{"x":163.9,"y":58.5},{"x":163.7,"y":66.8},{"x":163.5,"y":73.0},{"x":163.3,"y":77.3},{"x":163.1,"y":79.6},{"x":162.9,"y":80.5},{"x":162.7,"y":80.1},{"x":162.5,"y":78.3},{"x":162.3,"y":75.0},{"x":162.1,"y":70.5},{"x":161.9,"y":66.0},{"x":161.7,"y":60.5},{"x":161.5,"y":53.5},{"x":161.3,"y":46.0},{"x":161.1,"y":38.5},{"x":160.9,"y":32.0},{"x":160.7,"y":27.0},{"x":160.5,"y":24.0},{"x":160.3,"y":22.2},{"x":160.1,"y":21.2},{"x":159.9,"y":20.7},{"x":159.6,"y":20.5},{"x":157,"y":20.4}],
"e_x": [{"x":403.00,"y":11.0},{"x":402.95,"y":3.5},{"x":402.90,"y":14.0},{"x":402.85,"y":12.5},{"x":402.80,"y":5.0},{"x":402.75,"y":10.2},{"x":402.70,"y":6.8},{"x":402.65,"y":9.5},{"x":402.60,"y":11.3},{"x":402.55,"y":7.0},{"x":402.50,"y":3.0},{"x":402.45,"y":12.8},{"x":402.40,"y":11.5},{"x":402.35,"y":9.8},{"x":402.30,"y":4.6},{"x":402.25,"y":15.0},{"x":402.20,"y":13.2},{"x":402.15,"y":8.6},{"x":402.10,"y":14.1},{"x":402.05,"y":7.9},{"x":402.00,"y":27.2},{"x":401.95,"y":9.0},{"x":401.90,"y":6.2},{"x":401.85,"y":15.4},{"x":401.80,"y":8.8},{"x":401.75,"y":9.9},{"x":401.70,"y":13.1},{"x":401.65,"y":25.0},{"x":401.60,"y":19.3},{"x":401.55,"y":8.1},{"x":401.50,"y":18.6},{"x":401.45,"y":12.0},{"x":401.40,"y":14.8},{"x":401.35,"y":11.4},{"x":401.30,"y":17.3},{"x":401.25,"y":13.6},{"x":401.20,"y":12.5},{"x":401.15,"y":18.8},{"x":401.10,"y":21.5},{"x":401.05,"y":25.9},{"x":401.00,"y":23.4},{"x":400.95,"y":27.3},{"x":400.90,"y":32.5},{"x":400.85,"y":31.0},{"x":400.80,"y":37.8},{"x":400.75,"y":36.4},{"x":400.70,"y":30.1},{"x":400.65,"y":40.2},{"x":400.60,"y":46.7},{"x":400.55,"y":42.3},{"x":400.50,"y":48.6},{"x":400.45,"y":45.0},{"x":400.40,"y":52.1},{"x":400.35,"y":49.8},{"x":400.30,"y":63.4},{"x":400.25,"y":51.2},{"x":400.20,"y":58.6},{"x":400.15,"y":66.9},{"x":400.10,"y":62.0},{"x":400.05,"y":68.8},{"x":400.00,"y":65.7},{"x":399.95,"y":72.1},{"x":399.90,"y":68.3},{"x":399.85,"y":79.5},{"x":399.80,"y":84.0},{"x":399.75,"y":90.2},{"x":399.70,"y":88.4},{"x":399.65,"y":89.5},{"x":399.60,"y":84.1},{"x":399.55,"y":78.2},{"x":399.50,"y":86.3},{"x":399.45,"y":81.0},{"x":399.40,"y":88.7},{"x":399.35,"y":98.8},{"x":399.30,"y":84.6},{"x":399.25,"y":80.2},{"x":399.20,"y":86.9},{"x":399.15,"y":79.0},{"x":399.10,"y":81.8},{"x":399.05,"y":74.3},{"x":399.00,"y":76.5},{"x":398.95,"y":68.0},{"x":398.90,"y":69.4},{"x":398.85,"y":60.8},{"x":398.80,"y":66.2},{"x":398.75,"y":58.6},{"x":398.70,"y":54.0},{"x":398.65,"y":55.9},{"x":398.60,"y":48.1},{"x":398.55,"y":45.2},{"x":398.50,"y":40.8},{"x":398.45,"y":39.7},{"x":398.40,"y":36.9},{"x":398.35,"y":36.5},{"x":398.30,"y":26.8},{"x":398.25,"y":25.2},{"x":398.20,"y":26.9},{"x":398.15,"y":27.6},{"x":398.10,"y":25.4},{"x":398.05,"y":11.5},{"x":398.00,"y":18.7},{"x":397.95,"y":9.9},{"x":397.90,"y":8.6},{"x":397.85,"y":16.2},{"x":397.80,"y":10.4},{"x":397.75,"y":4.8},{"x":397.70,"y":12.9},{"x":397.65,"y":6.5},{"x":397.60,"y":16.9},{"x":397.55,"y":10.1},{"x":397.50,"y":9.5},{"x":397.45,"y":7.3},{"x":397.40,"y":12.2},{"x":397.35,"y":5.4},{"x":397.30,"y":9.6},{"x":397.25,"y":15.3},{"x":397.20,"y":8.0},{"x":397.15,"y":17.6},{"x":397.10,"y":9.1},{"x":397.05,"y":11.4},{"x":397.00,"y":8.8}],
"e_am": [{"x":403,"y":10.7},{"x":401.45,"y":10.8},{"x":401.25,"y":11.0},{"x":401.05,"y":11.5},{"x":400.85,"y":12.7},{"x":400.65,"y":15.4},{"x":400.45,"y":20.4},{"x":400.25,"y":28.5},{"x":400.05,"y":40.1},{"x":399.85,"y":54.1},{"x":399.65,"y":68.0},{"x":399.45,"y":78.3},{"x":399.25,"y":82.2},{"x":399.05,"y":78.3},{"x":398.85,"y":68.0},{"x":398.65,"y":54.1},{"x":398.45,"y":40.1},{"x":398.25,"y":28.5},{"x":398.05,"y":20.4},{"x":397.85,"y":15.4},{"x":397.65,"y":12.7},{"x":397.45,"y":11.5},{"x":397.25,"y":11.0},{"x":397.0,"y":10.8}],
"e_cn": [{"x":403,"y":10.7},{"x":401.65,"y":10.8},{"x":401.45,"y":11.0},{"x":401.25,"y":12.0},{"x":401.15,"y":13.0},{"x":401.05,"y":14.6},{"x":400.95,"y":16.9},{"x":400.85,"y":20.1},{"x":400.75,"y":23.9},{"x":400.65,"y":28.2},{"x":400.55,"y":32.4},{"x":400.45,"y":36.1},{"x":400.35,"y":38.6},{"x":400.25,"y":39.5},{"x":400.15,"y":38.6},{"x":400.05,"y":36.1},{"x":399.95,"y":32.4},{"x":399.85,"y":28.2},{"x":399.75,"y":23.9},{"x":399.65,"y":20.1},{"x":399.55,"y":16.9},{"x":399.45,"y":14.6},{"x":399.35,"y":13.0},{"x":399.25,"y":12.0},{"x":399.05,"y":11.0},{"x":398.85,"y":10.8},{"x":397,"y":10.7}],
"e_fit": [{"x":403.0,"y":10.7},{"x":401.85,"y":10.8},{"x":401.65,"y":10.85},{"x":401.45,"y":11.1},{"x":401.25,"y":12.3},{"x":401.05,"y":15.4},{"x":400.85,"y":22.1},{"x":400.65,"y":32.9},{"x":400.45,"y":45.8},{"x":400.25,"y":57.3},{"x":400.05,"y":65.5},{"x":399.85,"y":71.6},{"x":399.65,"y":77.4},{"x":399.45,"y":82.2},{"x":399.25,"y":83.5},{"x":399.05,"y":78.6},{"x":398.85,"y":68.1},{"x":398.65,"y":54.1},{"x":398.45,"y":40.1},{"x":398.25,"y":28.5},{"x":398.05,"y":20.4},{"x":397.85,"y":15.4},{"x":397.65,"y":12.7},{"x":397.45,"y":11.5},{"x":397.25,"y":11.0},{"x":397.0,"y":10.8}],
"f_x": [{"x":810.0,"y":38},{"x":809.8,"y":14},{"x":809.6,"y":52},{"x":809.4,"y":25},{"x":809.2,"y":61},{"x":809.0,"y":30},{"x":808.8,"y":47},{"x":808.6,"y":12},{"x":808.4,"y":55},{"x":808.2,"y":35},{"x":808.0,"y":64},{"x":807.8,"y":22},{"x":807.6,"y":50},{"x":807.4,"y":28},{"x":807.2,"y":58},{"x":807.0,"y":18},{"x":806.8,"y":45},{"x":806.6,"y":-2},{"x":806.4,"y":40},{"x":806.2,"y":52},{"x":806.0,"y":24},{"x":805.8,"y":60},{"x":805.6,"y":33},{"x":805.4,"y":48},{"x":805.2,"y":15},{"x":805.0,"y":54},{"x":804.8,"y":27},{"x":804.6,"y":62},{"x":804.4,"y":36},{"x":804.2,"y":20},{"x":804.0,"y":58},{"x":803.8,"y":41},{"x":803.6,"y":-3},{"x":803.4,"y":50},{"x":803.2,"y":30},{"x":803.0,"y":63},{"x":802.8,"y":25},{"x":802.6,"y":46},{"x":802.4,"y":38},{"x":802.2,"y":12},{"x":802.0,"y":-1},{"x":801.8,"y":44},{"x":801.6,"y":58},{"x":801.4,"y":28},{"x":801.2,"y":66},{"x":801.0,"y":40},{"x":800.8,"y":77},{"x":800.6,"y":45},{"x":800.4,"y":68},{"x":800.2,"y":36},{"x":800.0,"y":72},{"x":799.8,"y":50},{"x":799.6,"y":80},{"x":799.4,"y":48},{"x":799.2,"y":75},{"x":799.0,"y":55},{"x":798.8,"y":82},{"x":798.6,"y":46},{"x":798.4,"y":70},{"x":798.2,"y":58},{"x":798.0,"y":86},{"x":797.8,"y":52},{"x":797.6,"y":78},{"x":797.4,"y":62},{"x":797.2,"y":90},{"x":797.0,"y":49},{"x":796.8,"y":76},{"x":796.6,"y":57},{"x":796.4,"y":84},{"x":796.2,"y":40},{"x":796.0,"y":92},{"x":795.8,"y":45},{"x":795.6,"y":70},{"x":795.4,"y":38},{"x":795.2,"y":60},{"x":795.0,"y":28},{"x":794.8,"y":54},{"x":794.6,"y":36},{"x":794.4,"y":64},{"x":794.2,"y":20},{"x":794.0,"y":50},{"x":793.8,"y":32},{"x":793.6,"y":58},{"x":793.4,"y":15},{"x":793.2,"y":44},{"x":793.0,"y":30},{"x":792.8,"y":62},{"x":792.6,"y":25},{"x":792.4,"y":48},{"x":792.2,"y":36},{"x":792.0,"y":-4},{"x":791.8,"y":45},{"x":791.6,"y":55},{"x":791.4,"y":81},{"x":791.2,"y":30},{"x":791.0,"y":52},{"x":790.8,"y":22},{"x":790.6,"y":60},{"x":790.4,"y":34},{"x":790.2,"y":48},{"x":790.0,"y":18},{"x":789.8,"y":56},{"x":789.6,"y":30},{"x":789.4,"y":65},{"x":789.2,"y":40},{"x":789.0,"y":26},{"x":788.8,"y":54},{"x":788.6,"y":38},{"x":788.4,"y":-5},{"x":788.2,"y":46},{"x":788.0,"y":28},{"x":787.8,"y":60},{"x":787.6,"y":35},{"x":787.4,"y":50},{"x":787.2,"y":14},{"x":787.0,"y":56},{"x":786.8,"y":32},{"x":786.6,"y":68},{"x":786.4,"y":40},{"x":786.2,"y":24},{"x":786.0,"y":52},{"x":785.8,"y":36},{"x":785.6,"y":62},{"x":785.4,"y":28},{"x":785.2,"y":48},{"x":785.0,"y":18},{"x":784.8,"y":55},{"x":784.6,"y":40},{"x":784.4,"y":70},{"x":784.2,"y":46},{"x":784.0,"y":76},{"x":783.8,"y":54},{"x":783.6,"y":84},{"x":783.4,"y":60},{"x":783.2,"y":90},{"x":783.0,"y":68},{"x":782.8,"y":95},{"x":782.6,"y":72},{"x":782.4,"y":100},{"x":782.2,"y":78},{"x":782.0,"y":96},{"x":781.8,"y":82},{"x":781.6,"y":112},{"x":781.4,"y":86},{"x":781.2,"y":104},{"x":781.0,"y":80},{"x":780.8,"y":98},{"x":780.6,"y":74},{"x":780.4,"y":92},{"x":780.2,"y":66},{"x":780.0,"y":84},{"x":779.8,"y":58},{"x":779.6,"y":76},{"x":779.4,"y":48},{"x":779.2,"y":40},{"x":779.0,"y":22},{"x":778.8,"y":45},{"x":778.6,"y":8},{"x":778.4,"y":-6},{"x":778.2,"y":30},{"x":778.0,"y":12},{"x":777.8,"y":48},{"x":777.6,"y":20},{"x":777.4,"y":5},{"x":777.2,"y":38},{"x":777.0,"y":15},{"x":776.8,"y":44},{"x":776.6,"y":25},{"x":776.4,"y":58},{"x":776.2,"y":30},{"x":776.0,"y":10},{"x":775.8,"y":52},{"x":775.6,"y":24},{"x":775.4,"y":62},{"x":775.2,"y":35},{"x":775.0,"y":-3},{"x":774.8,"y":40},{"x":774.6,"y":18},{"x":774.4,"y":56},{"x":774.2,"y":28},{"x":774.0,"y":48},{"x":773.8,"y":8},{"x":773.6,"y":36},{"x":773.4,"y":-5},{"x":773.2,"y":42},{"x":773.0,"y":20},{"x":772.8,"y":55},{"x":772.6,"y":14},{"x":772.4,"y":46},{"x":772.2,"y":26},{"x":772.0,"y":-4},{"x":771.8,"y":38},{"x":771.6,"y":12},{"x":771.4,"y":52},{"x":771.2,"y":30},{"x":771.0,"y":44},{"x":770.8,"y":10},{"x":770.6,"y":36},{"x":770.4,"y":22}],
"f_co3": [{"x":810,"y":32.9},{"x":787.5,"y":32.9}],
"f_co1": [{"x":787.5,"y":32.9},{"x":770.4,"y":32.9}],
"f_fit": [{"x":810,"y":33.3},{"x":801.35,"y":33.35},{"x":800.85,"y":33.55},{"x":800.35,"y":34.2},{"x":799.85,"y":35.8},{"x":799.35,"y":39.25},{"x":798.85,"y":44.8},{"x":798.35,"y":51.8},{"x":797.85,"y":57.9},{"x":797.35,"y":60.3},{"x":796.85,"y":57.9},{"x":796.35,"y":51.8},{"x":795.85,"y":44.8},{"x":795.35,"y":39.25},{"x":794.85,"y":35.8},{"x":794.35,"y":34.2},{"x":793.85,"y":33.55},{"x":793.35,"y":33.35},{"x":785.4,"y":33.35},{"x":784.9,"y":33.6},{"x":784.4,"y":34.5},{"x":783.9,"y":37.0},{"x":783.4,"y":42.8},{"x":782.9,"y":52.8},{"x":782.4,"y":66.0},{"x":781.9,"y":77.9},{"x":781.4,"y":82.7},{"x":780.9,"y":77.9},{"x":780.4,"y":66.0},{"x":779.9,"y":52.8},{"x":779.4,"y":42.8},{"x":778.9,"y":37.0},{"x":778.4,"y":34.5},{"x":777.9,"y":33.6},{"x":777.4,"y":33.35},{"x":770.4,"y":33.3}]
}
}
